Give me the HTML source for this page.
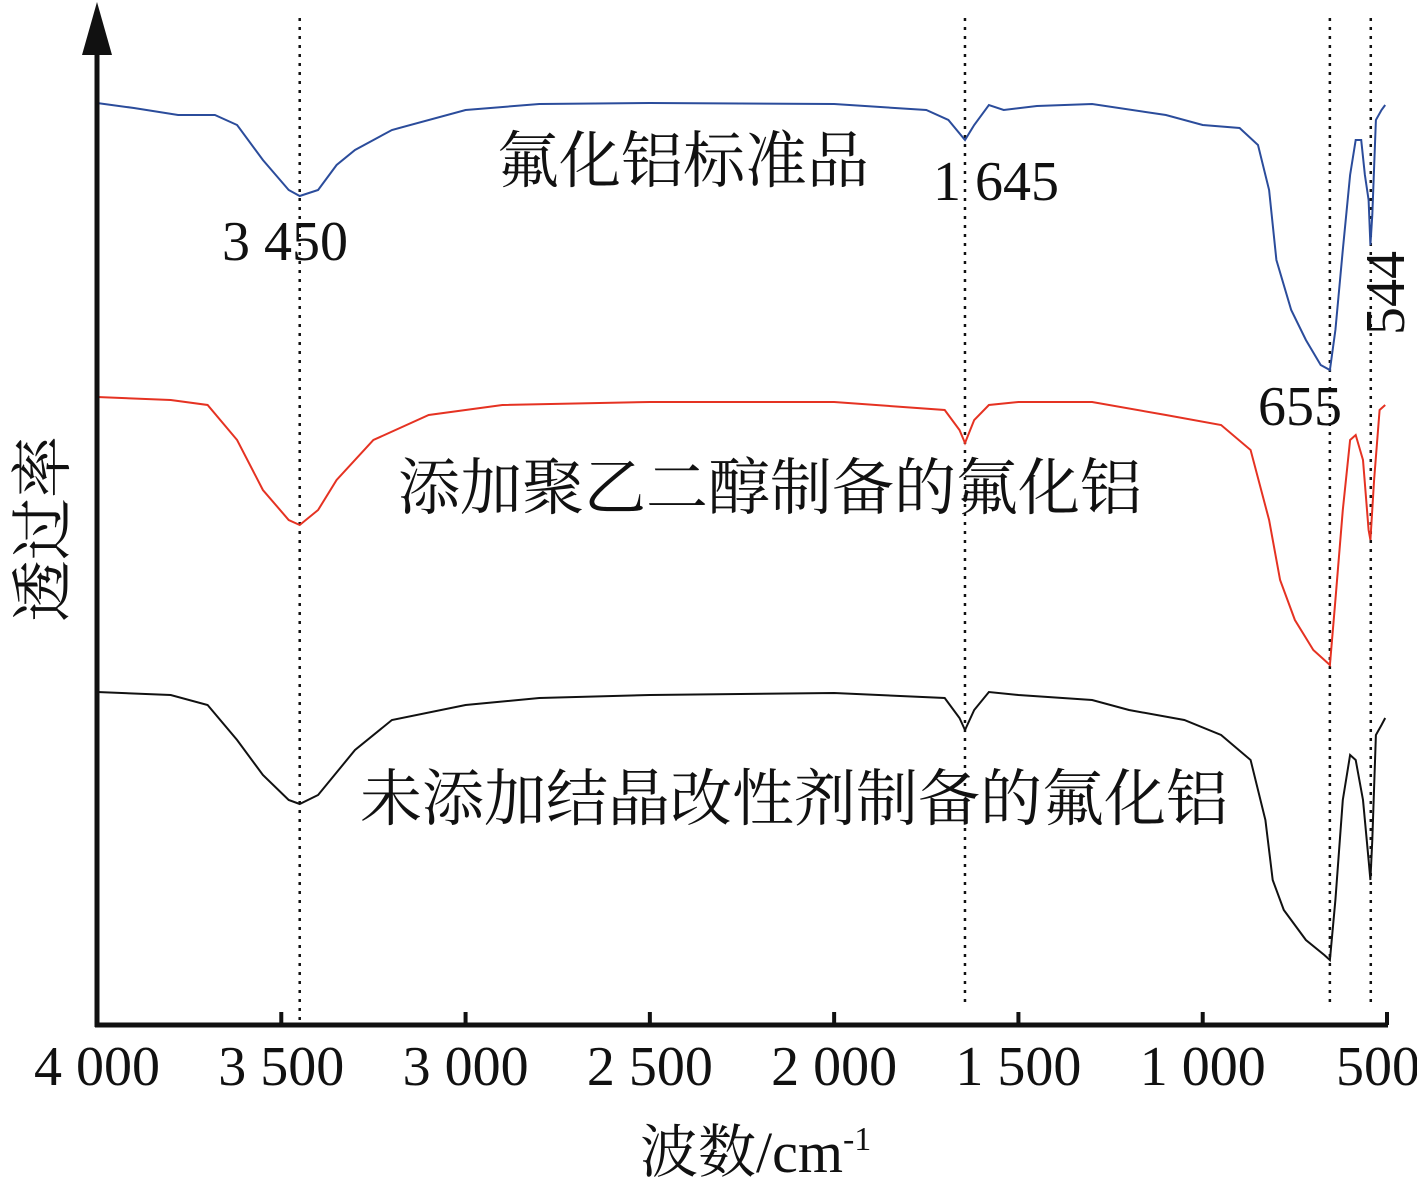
<!DOCTYPE html>
<html><head><meta charset="utf-8"><style>
body{margin:0;background:#fff}
svg{display:block}
text{font-family:"Liberation Serif","Noto Serif CJK SC","Noto Sans CJK SC",serif;fill:#111}
</style></head><body>
<svg id="chart" width="1417" height="1181" viewBox="0 0 1417 1181" xmlns="http://www.w3.org/2000/svg">
<g id="marks"></g>
<g id="axes"></g>
<text x="497" y="182" font-size="62">氟化铝标准品</text>
<text x="398" y="509" font-size="62">添加聚乙二醇制备的氟化铝</text>
<text x="360" y="820" font-size="62">未添加结晶改性剂制备的氟化铝</text>
<text x="222" y="260" font-size="56">3 450</text>
<text x="933" y="200" font-size="56">1 645</text>
<text x="1258" y="425" font-size="56">655</text>
<text transform="translate(1404,335) rotate(-90)" font-size="56">544</text>
<text transform="translate(64,622) rotate(-90)" font-size="62">透过率</text>
<text x="640" y="1172" font-size="58">波数/cm<tspan font-size="34" dy="-22">-1</tspan></text>
</svg>
<script>
const ticks=[4000,3500,3000,2500,2000,1500,1000,500];
const tickLabels=["4 000","3 500","3 000","2 500","2 000","1 500","1 000","500"];
const peaks=[3450,1645,655,544];
const wnStd=[4000,3900,3780,3680,3620,3550,3480,3450,3400,3350,3300,3200,3000,2800,2500,2000,1750,1690,1645,1620,1580,1540,1450,1300,1100,1000,900,850,820,800,760,720,680,655,640,620,600,585,570,560,550,545,540,530,515,505];
const tStd=[922,917,910,910,900,865,835,829,835,860,875,895,915,921,922,921,915,905,885,900,920,915,919,921,910,900,897,880,835,765,715,685,660,655,695,775,850,885,885,850,825,780,810,905,915,920];
const wnPeg=[4000,3800,3700,3620,3550,3480,3450,3400,3350,3250,3100,2900,2500,2000,1700,1660,1645,1620,1580,1500,1300,1100,950,870,820,790,750,700,655,640,620,600,585,565,550,545,535,520,505];
const tPeg=[628,625,620,585,535,505,500,515,545,585,610,620,623,623,615,595,582,605,620,623,623,610,600,575,505,445,405,375,360,425,515,585,590,565,495,485,545,615,620];
const wnNone=[4000,3800,3700,3620,3550,3480,3450,3400,3300,3200,3000,2800,2500,2000,1700,1660,1645,1620,1580,1500,1300,1200,1050,950,870,830,810,780,720,670,655,640,620,600,585,565,550,545,540,530,515,505];
const tNone=[333,330,320,285,250,225,221,230,275,305,320,327,330,332,327,307,295,315,333,330,325,315,305,290,265,205,145,115,85,70,65,125,225,270,265,225,165,145,185,290,300,307];
const X=w=>97+(4000-w)*0.36857;
const Y=t=>1025-t;
const NS="http://www.w3.org/2000/svg";
const marks=document.getElementById('marks'),axes=document.getElementById('axes');
function mk(tag,at,parent){const e=document.createElementNS(NS,tag);for(const k in at)e.setAttribute(k,at[k]);parent.appendChild(e);return e;}
peaks.forEach((p,i)=>{
 const l=mk('line',{x1:X(p),x2:X(p),y1:18,y2:i==0?1022:1002,stroke:'#111','stroke-width':2.5,'stroke-dasharray':'3 6'},marks);
 
 
});
[[wnStd,tStd,'#2b4c9b','spectrum-standard'],[wnPeg,tPeg,'#e53222','spectrum-peg'],[wnNone,tNone,'#111','spectrum-none']].forEach(s=>{
 const d=s[0].map((w,i)=>(i?'L':'M')+X(w).toFixed(1)+','+Y(s[1][i]).toFixed(1)).join('');
 const p=mk('path',{d:d,fill:'none',stroke:s[2],'stroke-width':2},marks);
 
 
});
const ya=mk('line',{x1:97,x2:97,y1:45,y2:1027,stroke:'#111','stroke-width':5},axes);


const ar=mk('polygon',{points:'97,2 82,55 112,55',fill:'#111'},axes);


const xa=mk('line',{x1:95,x2:1388,y1:1025,y2:1025,stroke:'#111','stroke-width':5},axes);


ticks.forEach((t,i)=>{
 if(i>0){const tk=mk('line',{x1:X(t),x2:X(t),y1:1025,y2:1012,stroke:'#111','stroke-width':4},axes);
 
 }
 const cx=Math.min(X(t),1378);
 const tx=mk('text',{x:cx,y:1085,'font-size':56,'text-anchor':'middle'},axes);
 tx.textContent=tickLabels[i];
 
 
});
</script>
</body></html>
